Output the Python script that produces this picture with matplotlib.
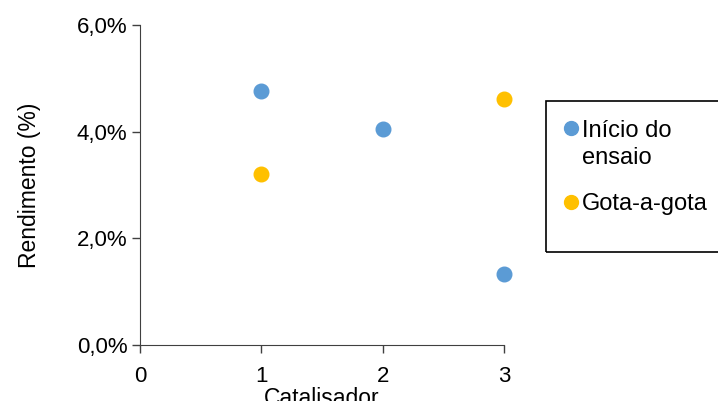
import matplotlib.pyplot as plt
from matplotlib.lines import Line2D
from matplotlib.patches import Rectangle
from matplotlib.ticker import FuncFormatter

plt.rcParams['font.family'] = ['Liberation Sans', 'DejaVu Sans']

# data
inicio_x = [1, 2, 3]
inicio_y = [0.0477, 0.0405, 0.0133]
gota_x = [1, 3]
gota_y = [0.0321, 0.0461]
xticks = [0, 1, 2, 3]
yticks = [0.0, 0.02, 0.04, 0.06]
blue = '#5B9BD5'
yellow = '#FFC000'

fig = plt.figure(figsize=(7.18, 4.01), dpi=100)
ax = fig.add_axes([140/718, 1-345/401, 364/718, 320/401])

ax.plot(inicio_x, inicio_y, 'o', color=blue, markersize=10.5, clip_on=False)
ax.plot(gota_x, gota_y, 'o', color=yellow, markersize=10.5, clip_on=False)

ax.set_xlim(0, 3)
ax.set_ylim(0, 0.06)
ax.set_xticks(xticks)
ax.set_yticks(yticks)
ax.yaxis.set_major_formatter(FuncFormatter(lambda v, p: ('%.1f%%' % (v*100)).replace('.', ',')))
ax.tick_params(direction='out', length=6, width=1, labelsize=16, colors='#404040', labelcolor='black')
ax.tick_params(axis='x', pad=9)
ax.tick_params(axis='y', pad=3)
for s in ['top', 'right']:
    ax.spines[s].set_visible(False)
for s in ['left', 'bottom']:
    ax.spines[s].set_color('#404040')

ax.set_ylabel('Rendimento (%)', fontsize=16.5, labelpad=26)
ax.set_xlabel('Catalisador', fontsize=16.5, labelpad=0)

# legend box, cut off on the right like the original
fig.patches.append(Rectangle((546/718, 1-252/401), 200/718, 151/401,
                             transform=fig.transFigure, fill=False,
                             edgecolor='black', linewidth=1.2))
fig.add_artist(Line2D([571/718], [1-128/401], marker='o', color=blue,
                      markersize=10, transform=fig.transFigure))
fig.add_artist(Line2D([571/718], [1-202/401], marker='o', color=yellow,
                      markersize=10, transform=fig.transFigure))
fig.text(582/718, 1-137/401, 'Início do', fontsize=17, va='baseline')
fig.text(582/718, 1-164/401, 'ensaio', fontsize=17, va='baseline')
fig.text(582/718, 1-210/401, 'Gota-a-gota', fontsize=17, va='baseline')

fig.savefig('out.png', dpi=100)
